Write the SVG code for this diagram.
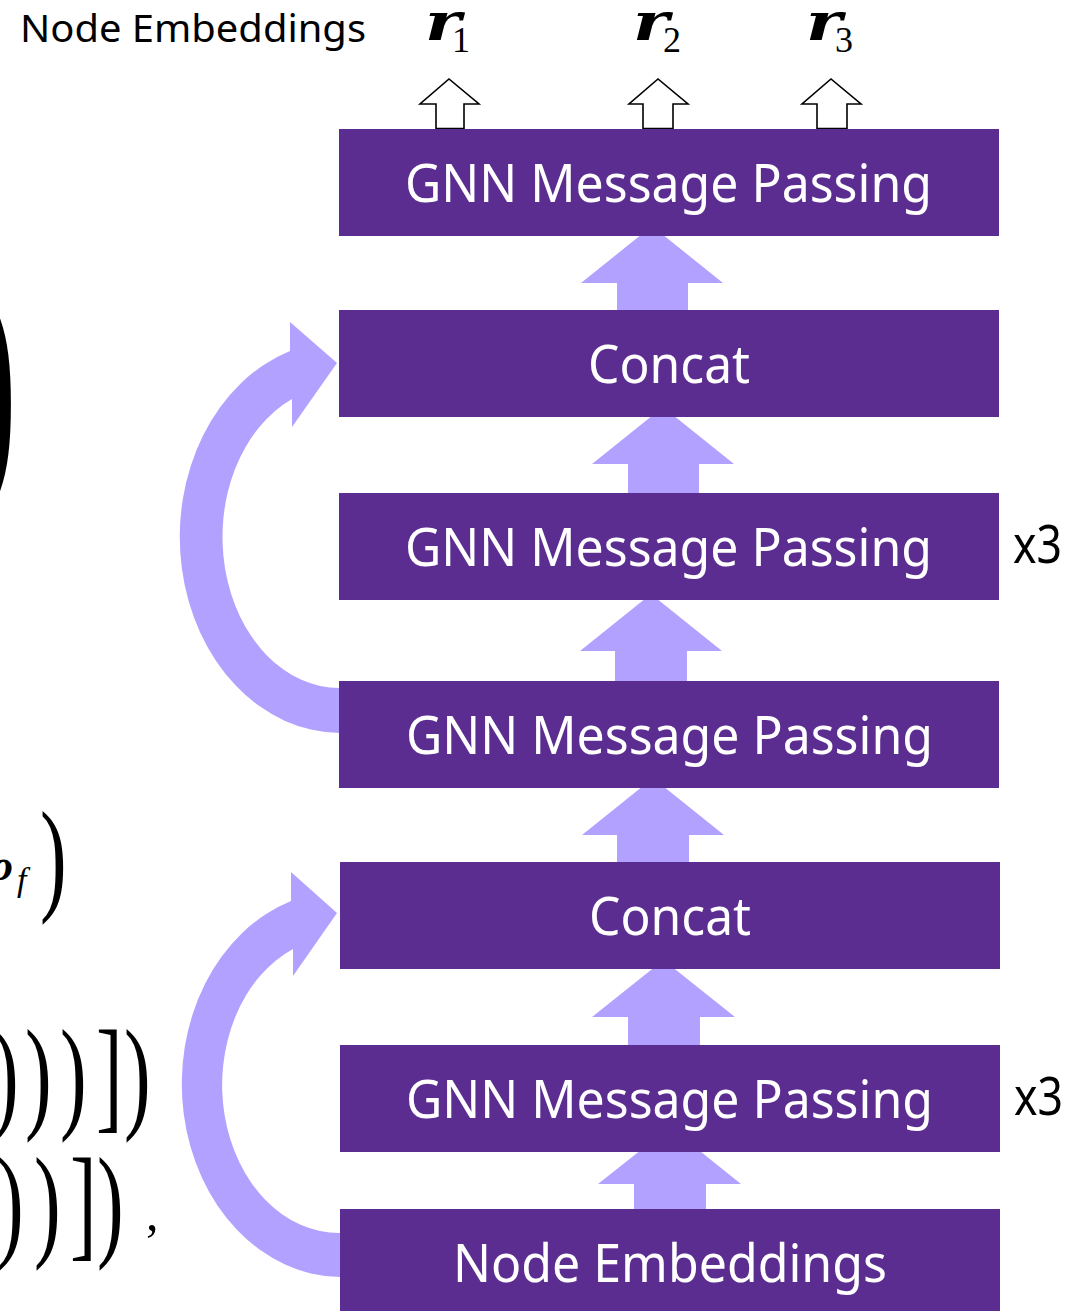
<svg xmlns="http://www.w3.org/2000/svg" width="1091" height="1311" viewBox="0 0 1091 1311">
<style>
.box{fill:#5c2d91}
.lbl{font-family:"Noto Sans","Open Sans","Liberation Sans",sans-serif;font-size:53px;fill:#ffffff;text-anchor:middle}
.blk{font-family:"Noto Sans","Open Sans","Liberation Sans",sans-serif;fill:#000000}
.up{fill:#b3a1ff}
.out{fill:#ffffff;stroke:#000000;stroke-width:1.6}
.rv{font-family:"DejaVu Serif","Liberation Serif",serif;font-weight:bold;font-style:italic;font-size:52px;fill:#000}
.sub{font-family:"Liberation Serif",serif;font-size:36px;fill:#000}
.mp{font-family:"Liberation Serif",serif;font-size:80px;fill:#000}
</style>
<rect width="1091" height="1311" fill="#ffffff"/>

<!-- math fragments on the left edge -->
<g id="math-fragments">
  <text class="mp" style="font-weight:bold;font-size:100px" transform="translate(-18,465) scale(1,2.5)">)</text>
  <text class="mp" style="font-weight:bold;font-style:italic;font-size:44px" x="-9" y="880">o</text>
  <text class="mp" style="font-style:italic;font-size:34px" x="17" y="891">f</text>
  <g transform="translate(0,898) scale(1,1.56)"><text class="mp" x="40" y="0">)</text></g>
  <g transform="translate(0,1116) scale(1,1.56)">
    <text class="mp" x="-8" y="0">)</text>
    <text class="mp" x="25" y="0">)</text>
    <text class="mp" x="60" y="0">)</text>
    <text class="mp" x="96" y="0">]</text>
    <text class="mp" x="124" y="0">)</text>
  </g>
  <g transform="translate(0,1244) scale(1,1.56)">
    <text class="mp" x="-3" y="0">)</text>
    <text class="mp" x="34" y="0">)</text>
    <text class="mp" x="70" y="0">]</text>
    <text class="mp" x="97" y="0">)</text>
  </g>
  <text class="mp" style="font-size:50px" x="146" y="1230">,</text>
</g>

<!-- top labels -->
<g id="top-labels">
  <text class="blk" x="20" y="42" font-size="38" textLength="346" lengthAdjust="spacingAndGlyphs">Node Embeddings</text>
  <g id="r1"><text class="rv" x="425" y="40" textLength="36" lengthAdjust="spacingAndGlyphs">r</text><text class="sub" x="452" y="52">1</text></g>
  <g id="r2"><text class="rv" x="633" y="40" textLength="36" lengthAdjust="spacingAndGlyphs">r</text><text class="sub" x="663" y="52">2</text></g>
  <g id="r3"><text class="rv" x="806" y="40" textLength="36" lengthAdjust="spacingAndGlyphs">r</text><text class="sub" x="835" y="52">3</text></g>
</g>

<!-- connectors -->
<g id="connectors">
  <polygon class="out" points="436,128.5 436,104 420,104 449,79 479,104 464,104 464,128.5"/>
  <polygon class="out" points="643,128.5 643,104 629,104 658,79 688,104 673,104 673,128.5"/>
  <polygon class="out" points="817,128.5 817,104 802,104 831,79 861,104 847,104 847,128.5"/>

  <polygon class="up" points="617,310 617,283 581,283 652,226 723,283 688,283 688,310"/>
  <polygon class="up" points="628,493 628,464 592,464 663,407 734,464 699,464 699,493"/>
  <polygon class="up" points="615,681 615,651 580,651 651,594 722,651 687,651 687,681"/>
  <polygon class="up" points="617,862 617,835 582,835 653,778 724,835 689,835 689,862"/>
  <polygon class="up" points="628,1045 628,1017 592,1017 663.5,960 735,1017 700,1017 700,1045"/>
  <polygon class="up" points="634,1209 634,1184 598,1184 670,1127 741,1184 706,1184 706,1209"/>

  <path class="up" d="M340,733 A161,196 0 0 1 290,351 L290,322 L337,363 L292,427 L292,399 A117,151 0 0 0 340,688 Z"/>
  <path class="up" d="M340,1277 A160,193 0 0 1 291,901 L291,872 L337,913 L293,976 L293,949 A117,148 0 0 0 340,1233 Z"/>
</g>

<!-- nodes -->
<g id="gnn-top">
  <rect class="box" x="339" y="129" width="660" height="107"/>
  <text class="lbl" x="668.5" y="202" textLength="527" lengthAdjust="spacingAndGlyphs">GNN Message Passing</text>
</g>
<g id="concat-top">
  <rect class="box" x="339" y="310" width="660" height="107"/>
  <text class="lbl" x="669" y="383" textLength="162" lengthAdjust="spacingAndGlyphs">Concat</text>
</g>
<g id="gnn-x3-top">
  <rect class="box" x="339" y="493" width="660" height="107"/>
  <text class="lbl" x="668.5" y="566" textLength="527" lengthAdjust="spacingAndGlyphs">GNN Message Passing</text>
  <text class="blk" x="1013" y="563" font-size="53" textLength="49" lengthAdjust="spacingAndGlyphs">x3</text>
</g>
<g id="gnn-mid">
  <rect class="box" x="339" y="681" width="660" height="107"/>
  <text class="lbl" x="669.5" y="754" textLength="527" lengthAdjust="spacingAndGlyphs">GNN Message Passing</text>
</g>
<g id="concat-bottom">
  <rect class="box" x="340" y="862" width="660" height="107"/>
  <text class="lbl" x="670" y="935" textLength="162" lengthAdjust="spacingAndGlyphs">Concat</text>
</g>
<g id="gnn-x3-bottom">
  <rect class="box" x="340" y="1045" width="660" height="107"/>
  <text class="lbl" x="669.5" y="1118" textLength="527" lengthAdjust="spacingAndGlyphs">GNN Message Passing</text>
  <text class="blk" x="1014" y="1115" font-size="53" textLength="49" lengthAdjust="spacingAndGlyphs">x3</text>
</g>
<g id="node-embeddings">
  <rect class="box" x="340" y="1209" width="660" height="102"/>
  <text class="lbl" x="670" y="1282" textLength="434" lengthAdjust="spacingAndGlyphs">Node Embeddings</text>
</g>
</svg>
